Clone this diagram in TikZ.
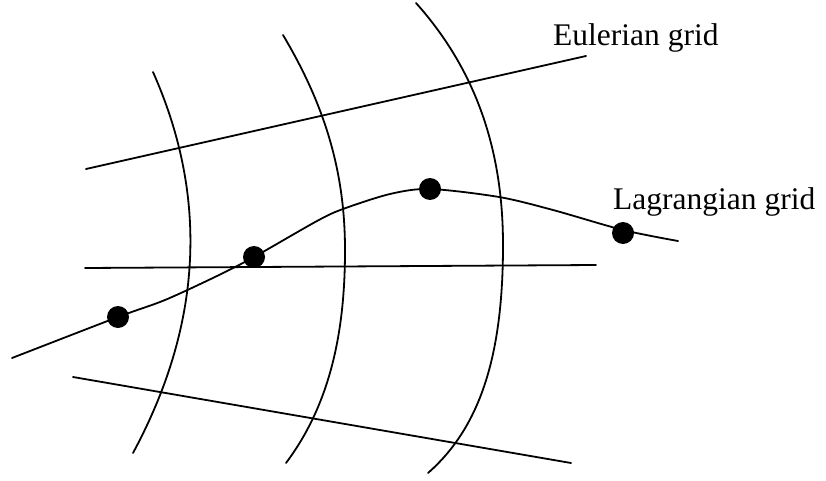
\documentclass[tikz,border=0pt]{standalone}
\usepackage{fontspec}
\setmainfont{Liberation Serif}
\begin{document}
\begin{tikzpicture}[x=1pt,y=-1pt,
  gridline/.style={line width=1.8pt,line cap=round},
  curveline/.style={line width=1.8pt,line cap=round,line join=round},
  dotmark/.style={circle,fill=black,inner sep=0pt,minimum size=22pt},
  lbl/.style={anchor=base west,inner sep=0pt,font=\fontsize{31.5}{36}\selectfont}]
\useasboundingbox (0,0) rectangle (826,481);
% Eulerian grid lines
\draw[gridline] (86,169) -- (586,56);
\draw[gridline] (85,268) -- (596,265);
\draw[gridline] (73,377) -- (571,463);
% Eulerian arcs
\draw[gridline] (153,72) .. controls (209,198) and (202,325) .. (133,453);
\draw[gridline] (283,35) .. controls (324,104) and (345,170) .. (345,250)
                         .. controls (345,330) and (331,403) .. (286,463);
\draw[gridline] (416,3) .. controls (476,70) and (503,150) .. (503,245)
                         .. controls (503,355) and (480.5,427) .. (428,473);
% Lagrangian curve
\draw[curveline] plot[smooth,tension=0.5] coordinates {(12,358) (118,317) (165,300) (217,276) (254,257) (317,221) (343,209) (390,194) (430,189) (499,197) (553,210) (623,230) (678,241)};
\node[dotmark] (d1) at (118,317) {};
\node[dotmark] (d2) at (254,257) {};
\node[dotmark] (d3) at (430,189) {};
\node[dotmark] (d4) at (623,233) {};
\node[lbl] (eul) at (553,46) {Eulerian grid};
\node[lbl] (lag) at (613,209) {Lagrangian grid};
\end{tikzpicture}
\end{document}
